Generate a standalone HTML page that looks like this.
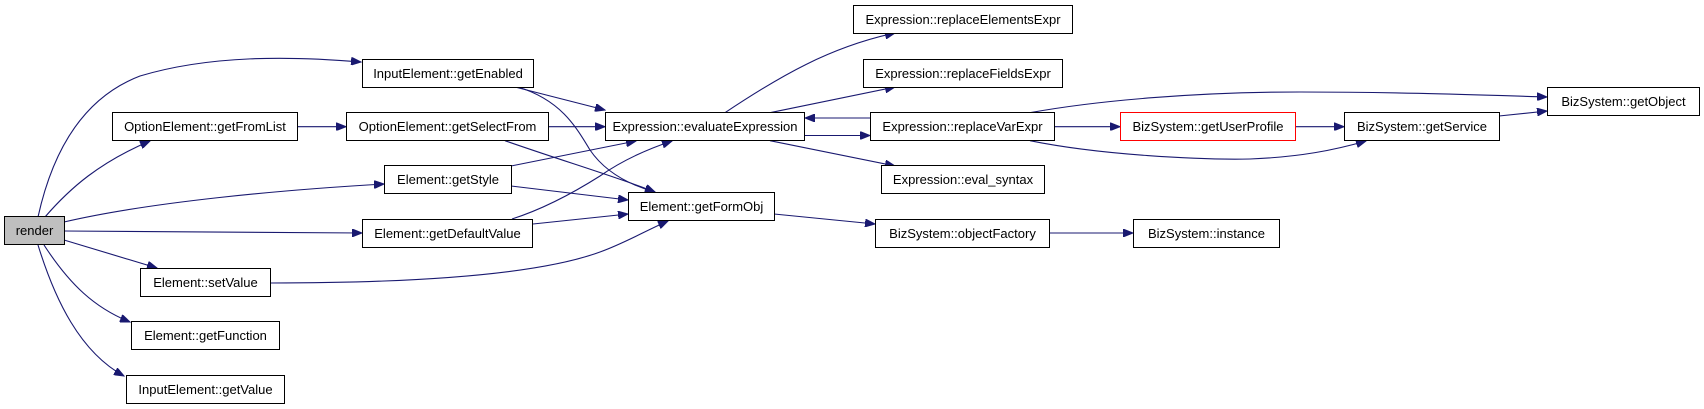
<!DOCTYPE html>
<html><head><meta charset="utf-8"><style>
html,body{margin:0;padding:0;background:#fff;width:1704px;height:409px;overflow:hidden}
svg{display:block}
text{font-family:"Liberation Sans",Arial,sans-serif;font-size:13px;fill:#000}
.n{fill:#fff;stroke:#000;stroke-width:1}
.e{fill:none;stroke:#191970;stroke-width:1.1}
</style></head><body>
<svg width="1704" height="409" viewBox="0 0 1704 409" xmlns="http://www.w3.org/2000/svg">
<defs><marker id="a" markerWidth="11" markerHeight="8" refX="10" refY="4" orient="auto" markerUnits="userSpaceOnUse"><path d="M0,0 L10,4 L0,8 z" fill="#191970" stroke="#191970"/></marker></defs>
<g class="e" marker-end="url(#a)">
<path d="M38,217 C55,140 90,95 140,76 C210,55 290,56 361,62"/>
<path d="M45,217 C70,188 100,162 150,141"/>
<path d="M64,222 C150,202 280,190 384,184"/>
<path d="M64,231 L362,233"/>
<path d="M64,240 L157,268"/>
<path d="M44,245 C70,285 95,308 130,322"/>
<path d="M38,245 C55,300 80,352 124,376"/>
<path d="M298,126.7 L346,126.7"/>
<path d="M515,87 L605,110"/>
<path d="M518,87 C560,100 575,125 590,150 C605,172 630,185 655,192"/>
<path d="M548,126.7 L605,126.7"/>
<path d="M505,140.7 C560,160 620,178 655,192"/>
<path d="M511,166 L636,141"/>
<path d="M511,186 L628,200"/>
<path d="M512,219 C540,210 570,195 600,176 C620,162 645,150 672,141"/>
<path d="M533,224 L628,214"/>
<path d="M270,283 C420,283 540,274 600,252 C625,243 645,231 668,221"/>
<path d="M725,112.7 C780,76 830,47 895,33"/>
<path d="M770,112.7 L895,87"/>
<path d="M805,135.5 L870,135.5"/>
<path d="M870,118 L805,118"/>
<path d="M770,140.7 L895,166"/>
<path d="M1054,126.7 L1120,126.7"/>
<path d="M1030,112.7 C1100,100 1200,92 1300,92 C1400,92 1480,95 1547,97"/>
<path d="M1030,140.7 C1100,155 1200,160 1250,159 C1300,157 1335,150 1366,141"/>
<path d="M1295,126.7 L1344,126.7"/>
<path d="M1499,116 L1547,111"/>
<path d="M774,214 L875,224"/>
<path d="M1049,233 L1133,233"/>
</g>
<g>
<rect x="4.5" y="216.5" width="60" height="28" fill="#bfbfbf" stroke="#000"/><text x="34.5" y="235" text-anchor="middle">render</text>
<rect class="n" x="362.5" y="59.5" width="171" height="28"/><text x="448" y="78" text-anchor="middle">InputElement::getEnabled</text>
<rect class="n" x="112.5" y="112.5" width="185" height="28"/><text x="205" y="131" text-anchor="middle">OptionElement::getFromList</text>
<rect class="n" x="346.5" y="112.5" width="202" height="28"/><text x="447.5" y="131" text-anchor="middle">OptionElement::getSelectFrom</text>
<rect class="n" x="384.5" y="165.5" width="127" height="28"/><text x="448" y="184" text-anchor="middle">Element::getStyle</text>
<rect class="n" x="362.5" y="219.5" width="170" height="28"/><text x="447.5" y="238" text-anchor="middle">Element::getDefaultValue</text>
<rect class="n" x="140.5" y="268.5" width="130" height="28"/><text x="205.5" y="287" text-anchor="middle">Element::setValue</text>
<rect class="n" x="131.5" y="321.5" width="148" height="28"/><text x="205.5" y="340" text-anchor="middle">Element::getFunction</text>
<rect class="n" x="126.5" y="375.5" width="158" height="28"/><text x="205.5" y="394" text-anchor="middle">InputElement::getValue</text>
<rect class="n" x="605.5" y="112.5" width="199" height="28"/><text x="705" y="131" text-anchor="middle">Expression::evaluateExpression</text>
<rect class="n" x="628.5" y="192.5" width="146" height="28"/><text x="701.5" y="211" text-anchor="middle">Element::getFormObj</text>
<rect class="n" x="853.5" y="5.5" width="219" height="28"/><text x="963" y="24" text-anchor="middle">Expression::replaceElementsExpr</text>
<rect class="n" x="863.5" y="59.5" width="199" height="28"/><text x="963" y="78" text-anchor="middle">Expression::replaceFieldsExpr</text>
<rect class="n" x="870.5" y="112.5" width="184" height="28"/><text x="962.5" y="131" text-anchor="middle">Expression::replaceVarExpr</text>
<rect class="n" x="881.5" y="165.5" width="163" height="28"/><text x="963" y="184" text-anchor="middle">Expression::eval_syntax</text>
<rect class="n" x="875.5" y="219.5" width="174" height="28"/><text x="962.5" y="238" text-anchor="middle">BizSystem::objectFactory</text>
<rect x="1120.5" y="112.5" width="175" height="28" fill="#fff" stroke="#ff0000"/><text x="1208" y="131" text-anchor="middle">BizSystem::getUserProfile</text>
<rect class="n" x="1344.5" y="112.5" width="155" height="28"/><text x="1422" y="131" text-anchor="middle">BizSystem::getService</text>
<rect class="n" x="1547.5" y="87.5" width="152" height="28"/><text x="1623.5" y="106" text-anchor="middle">BizSystem::getObject</text>
<rect class="n" x="1133.5" y="219.5" width="146" height="28"/><text x="1206.5" y="238" text-anchor="middle">BizSystem::instance</text>
</g>
</svg>
</body></html>
